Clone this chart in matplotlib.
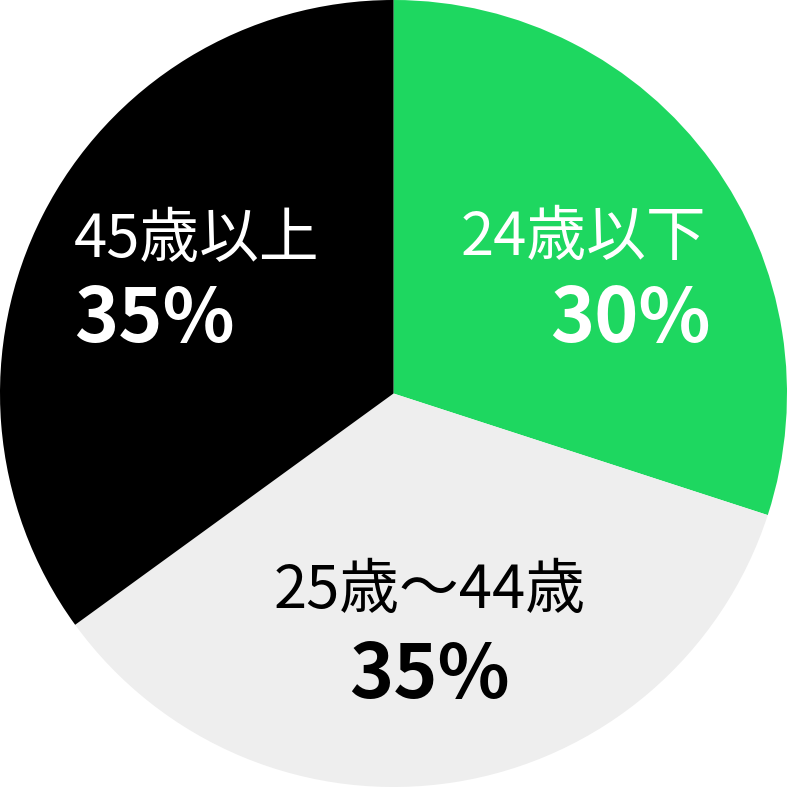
import matplotlib
matplotlib.use("Agg")
import matplotlib.pyplot as plt

categories = ["24歳以下", "25歳～44歳", "45歳以上"]
values = [30, 35, 35]
pct_labels = ["30%", "35%", "35%"]
colors = ["#1ED760", "#EEEEEE", "#000000"]
text_colors = ["white", "black", "white"]

plt.rcParams['font.family'] = ['Noto Sans CJK JP', 'DejaVu Sans']

fig = plt.figure(figsize=(7.87, 7.87), dpi=100)
ax = fig.add_axes([0, 0, 1, 1])
ax.pie(values, colors=colors, startangle=90, counterclock=False, radius=1.0,
       wedgeprops=dict(linewidth=0))
ax.set_xlim(-1.0, 1.0)
ax.set_ylim(-1.0, 1.0)
ax.set_aspect('equal')
ax.axis('off')

# label layout (figure fractions): (x_name, x_pct, y_name, y_pct, ha)
layout = [
    (0.897, 0.903, 0.697, 0.593, 'right'),
    (0.546, 0.546, 0.249, 0.141, 'center'),
    (0.094, 0.094, 0.694, 0.593, 'left'),
]
for (xn, xp, yn, yp, ha), name, pct, tc in zip(layout, categories, pct_labels, text_colors):
    fig.text(xn, yn, name, ha=ha, va='center', fontsize=43, color=tc)
    fig.text(xp, yp, pct, ha=ha, va='center', fontsize=54, fontweight='bold', color=tc)

fig.savefig("out.png", dpi=100)
